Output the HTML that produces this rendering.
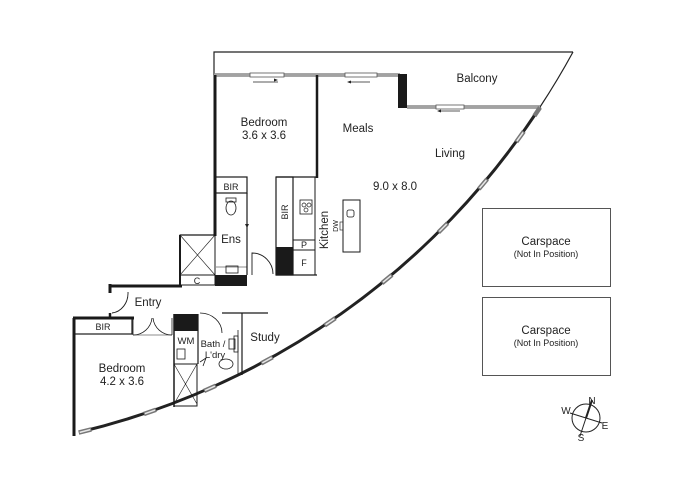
<!DOCTYPE html>
<html><head><meta charset="utf-8"><style>
html,body{margin:0;padding:0;background:#fff;}
svg{display:block;}
text{font-family:"Liberation Sans",Arial,sans-serif;fill:#222;}
</style></head><body>
<svg width="694" height="490" viewBox="0 0 694 490" xmlns="http://www.w3.org/2000/svg">
<g fill="none" stroke="#222">
<polyline points="214,75 214,52 573,52" stroke-width="1.2"/>
<path d="M540,107 A760,760 0 0 0 573,52" stroke-width="1.2"/>
<path d="M80,432 A760,760 0 0 0 540,107" stroke-width="3"/>
<line x1="214" y1="75" x2="400" y2="75" stroke="#888" stroke-width="3.5"/>
<line x1="407" y1="107" x2="540" y2="107" stroke="#888" stroke-width="3.5"/>
<line x1="214" y1="75" x2="400" y2="75" stroke="#bbb" stroke-width="1"/>
<line x1="407" y1="107" x2="540" y2="107" stroke="#bbb" stroke-width="1"/>
<rect x="250" y="73" width="34" height="4" fill="#fff" stroke="#555" stroke-width="0.8"/>
<rect x="345" y="73" width="32" height="4" fill="#fff" stroke="#555" stroke-width="0.8"/>
<rect x="436" y="105" width="28" height="4" fill="#fff" stroke="#555" stroke-width="0.8"/>
<line x1="253" y1="82" x2="278" y2="82" stroke-width="0.8"/>
<line x1="350" y1="82" x2="370" y2="82" stroke-width="0.8"/>
<line x1="440" y1="111" x2="460" y2="111" stroke-width="0.8"/>
</g>
<polygon points="278,80 274,78.5 274,81.5" fill="#222"/>
<polygon points="347,82 351,80.5 351,83.5" fill="#222"/>
<polygon points="437,111 441,109.5 441,112.5" fill="#222"/>
<rect x="398" y="74" width="9" height="34" fill="#1a1a1a"/>
<g fill="none" stroke="#1a1a1a">
<line x1="215" y1="75" x2="215" y2="236" stroke-width="3"/>
<line x1="317" y1="75" x2="317" y2="178" stroke-width="2.5"/>
<line x1="317" y1="177" x2="276" y2="177" stroke-width="1.2"/>
<rect x="215" y="177" width="32" height="16" stroke-width="1.2"/>
<line x1="247" y1="193" x2="247" y2="275" stroke-width="1.2"/>
<line x1="180" y1="235" x2="215" y2="235" stroke-width="1.2"/>
<line x1="180" y1="235" x2="180" y2="287" stroke-width="2"/>
<rect x="180" y="235" width="35" height="40" stroke-width="1"/>
<line x1="180" y1="235" x2="215" y2="275" stroke-width="0.6"/>
<line x1="215" y1="235" x2="180" y2="275" stroke-width="0.6"/>
<rect x="180" y="275" width="35" height="10" stroke-width="1"/>
<line x1="109" y1="286" x2="182" y2="286" stroke-width="3"/>
<line x1="110" y1="284" x2="110" y2="293" stroke-width="3"/>
<ellipse cx="231" cy="208" rx="5" ry="7" stroke-width="0.8"/>
<rect x="226" y="198" width="10" height="4" stroke-width="0.8"/>
<rect x="226" y="266" width="12" height="7" stroke-width="0.8"/>
<line x1="216" y1="267" x2="247" y2="267" stroke-width="0.6"/>
<path d="M252,275 L252,253 A21,21 0 0 1 273,274" stroke-width="0.9"/>
<rect x="276" y="177" width="17" height="98" stroke-width="1.2"/>
<rect x="293" y="177" width="22" height="98" stroke-width="1"/>
<rect x="293" y="240" width="22" height="10" stroke-width="1"/>
<line x1="276" y1="275" x2="317" y2="275" stroke-width="1.2"/>
<rect x="300" y="200" width="12" height="14" stroke-width="0.8"/>
<circle cx="304" cy="205" r="2" stroke-width="0.7"/><circle cx="309" cy="205" r="2" stroke-width="0.7"/><circle cx="306" cy="210" r="2" stroke-width="0.7"/>
<rect x="343" y="200" width="17" height="52" stroke-width="1"/>
<rect x="347" y="210" width="7" height="7" rx="2" stroke-width="0.8"/>
<rect x="340" y="222" width="3" height="8" stroke-width="0.6"/>
</g>
<rect x="276" y="247" width="17" height="28" fill="#1a1a1a"/>
<rect x="215" y="275" width="32" height="11" fill="#1a1a1a"/>
<g fill="none" stroke="#1a1a1a">
<path d="M128,292 A18,20 0 0 1 112,313" stroke-width="0.9"/>
<line x1="110" y1="313" x2="110" y2="319" stroke-width="2.5"/>
<line x1="73" y1="318" x2="134" y2="318" stroke-width="3"/>
<line x1="74" y1="318" x2="74" y2="436" stroke-width="3"/>
<rect x="74" y="318" width="58" height="16" stroke-width="1.2"/>
<path d="M133,335 L133,318 M133,335 A19,19 0 0 0 152,318 M172,335 L172,318 M172,335 A19,19 0 0 1 153,318" stroke-width="0.8"/>
<line x1="133" y1="335" x2="172" y2="335" stroke-width="0.6"/>
<line x1="174" y1="314" x2="174" y2="407" stroke-width="1.5"/>
<line x1="198" y1="314" x2="198" y2="364" stroke-width="1.2"/>
<rect x="174" y="364" width="23" height="42" stroke-width="1"/>
<line x1="174" y1="364" x2="197" y2="404" stroke-width="0.6"/>
<line x1="197" y1="364" x2="174" y2="404" stroke-width="0.6"/>
<rect x="177" y="349" width="8" height="10" stroke-width="0.8"/>
<path d="M200,313 A22,20 0 0 1 222,333" stroke-width="0.8"/>
<line x1="222" y1="313" x2="268" y2="313" stroke-width="1.2"/>
<line x1="242" y1="313" x2="242" y2="375" stroke-width="1.2"/>
<line x1="238" y1="330" x2="238" y2="375" stroke-width="0.8"/>
<rect x="229" y="339" width="6" height="10" stroke-width="0.8"/>
<rect x="234" y="336" width="4" height="16" stroke-width="0.8"/>
<ellipse cx="226" cy="364" rx="7" ry="5" stroke-width="0.8"/>
<path d="M200,362 L206,358 L203,366" stroke-width="0.8"/>
</g>
<rect x="174" y="314" width="24" height="17" fill="#1a1a1a"/>
<g stroke="#777" stroke-width="4.5" fill="none">
<line x1="78.7" y1="432.6" x2="91.3" y2="429.4"/>
<line x1="143.9" y1="414" x2="156.1" y2="409.8"/>
<line x1="204.1" y1="390.9" x2="215.9" y2="385.7"/>
<line x1="261.3" y1="363.4" x2="272.7" y2="357.2"/>
<line x1="324.6" y1="325.5" x2="335.4" y2="318.1"/>
<line x1="382" y1="283.1" x2="392" y2="274.9"/>
<line x1="438.4" y1="232.4" x2="447.6" y2="223.2"/>
<line x1="478.8" y1="189.1" x2="487.2" y2="179.1"/>
<line x1="516.2" y1="142" x2="523.8" y2="131.4"/>
<line x1="534.4" y1="115.9" x2="540" y2="107.5"/>
</g>
<g stroke="#e8e8e8" stroke-width="1.5" fill="none">
<line x1="79.7" y1="432.4" x2="90.3" y2="429.6"/>
<line x1="144.9" y1="413.7" x2="155.1" y2="410.1"/>
<line x1="205.1" y1="390.5" x2="214.9" y2="386.1"/>
<line x1="262.3" y1="362.9" x2="271.7" y2="357.7"/>
<line x1="325.6" y1="324.8" x2="334.4" y2="318.8"/>
<line x1="383" y1="282.3" x2="391" y2="275.7"/>
<line x1="439.3" y1="231.5" x2="446.7" y2="224.1"/>
<line x1="479.6" y1="188.1" x2="486.4" y2="180.1"/>
<line x1="516.9" y1="141" x2="523.1" y2="132.4"/>
</g>
<rect x="482.5" y="208.5" width="128" height="78" fill="none" stroke="#555" stroke-width="1"/>
<rect x="482.5" y="297.5" width="128" height="78" fill="none" stroke="#555" stroke-width="1"/>
<g stroke="#222" fill="none">
<circle cx="586" cy="418" r="14" stroke-width="1"/>
<line x1="592" y1="400" x2="586" y2="418" stroke-width="2"/>
<line x1="586" y1="418" x2="580" y2="436" stroke-width="1"/>
<line x1="570" y1="413" x2="602" y2="423" stroke-width="1"/>
</g>
<g font-size="10.5">
<text x="592" y="404" text-anchor="middle" font-size="10">N</text>
<text x="566" y="414" text-anchor="middle" font-size="10">W</text>
<text x="605" y="429" text-anchor="middle" font-size="10">E</text>
<text x="581" y="441" text-anchor="middle" font-size="10">S</text>
</g>
<g font-size="11.5" text-anchor="middle">
<text x="264" y="126">Bedroom</text>
<text x="264" y="139">3.6 x 3.6</text>
<text x="358" y="132">Meals</text>
<text x="450" y="157">Living</text>
<text x="395" y="190">9.0 x 8.0</text>
<text x="477" y="82">Balcony</text>
<text x="231" y="243">Ens</text>
<text x="148" y="306">Entry</text>
<text x="265" y="341">Study</text>
<text x="122" y="372">Bedroom</text>
<text x="122" y="385">4.2 x 3.6</text>
<text x="546" y="245">Carspace</text>
<text x="546" y="334">Carspace</text>
</g>
<g font-size="9" text-anchor="middle">
<text x="546" y="257">(Not In Position)</text>
<text x="546" y="346">(Not In Position)</text>
<text x="231" y="190">BIR</text>
<text x="103" y="330">BIR</text>
<text x="304" y="248">P</text>
<text x="304" y="266">F</text>
<text x="197" y="284">C</text>
<text x="186" y="344" font-size="9.5">WM</text>
<text x="213" y="347" font-size="9.5">Bath /</text>
<text x="215" y="358" font-size="9.5">L'dry</text>
<text transform="translate(288,212) rotate(-90)">BIR</text>
<text transform="translate(338,226) rotate(-90)" font-size="7">DW</text>
</g>
<text transform="translate(328,230) rotate(-90)" font-size="11.5" text-anchor="middle">Kitchen</text>
<polygon points="245,224 249,224 247,228" fill="#222"/>
</svg>
</body></html>
